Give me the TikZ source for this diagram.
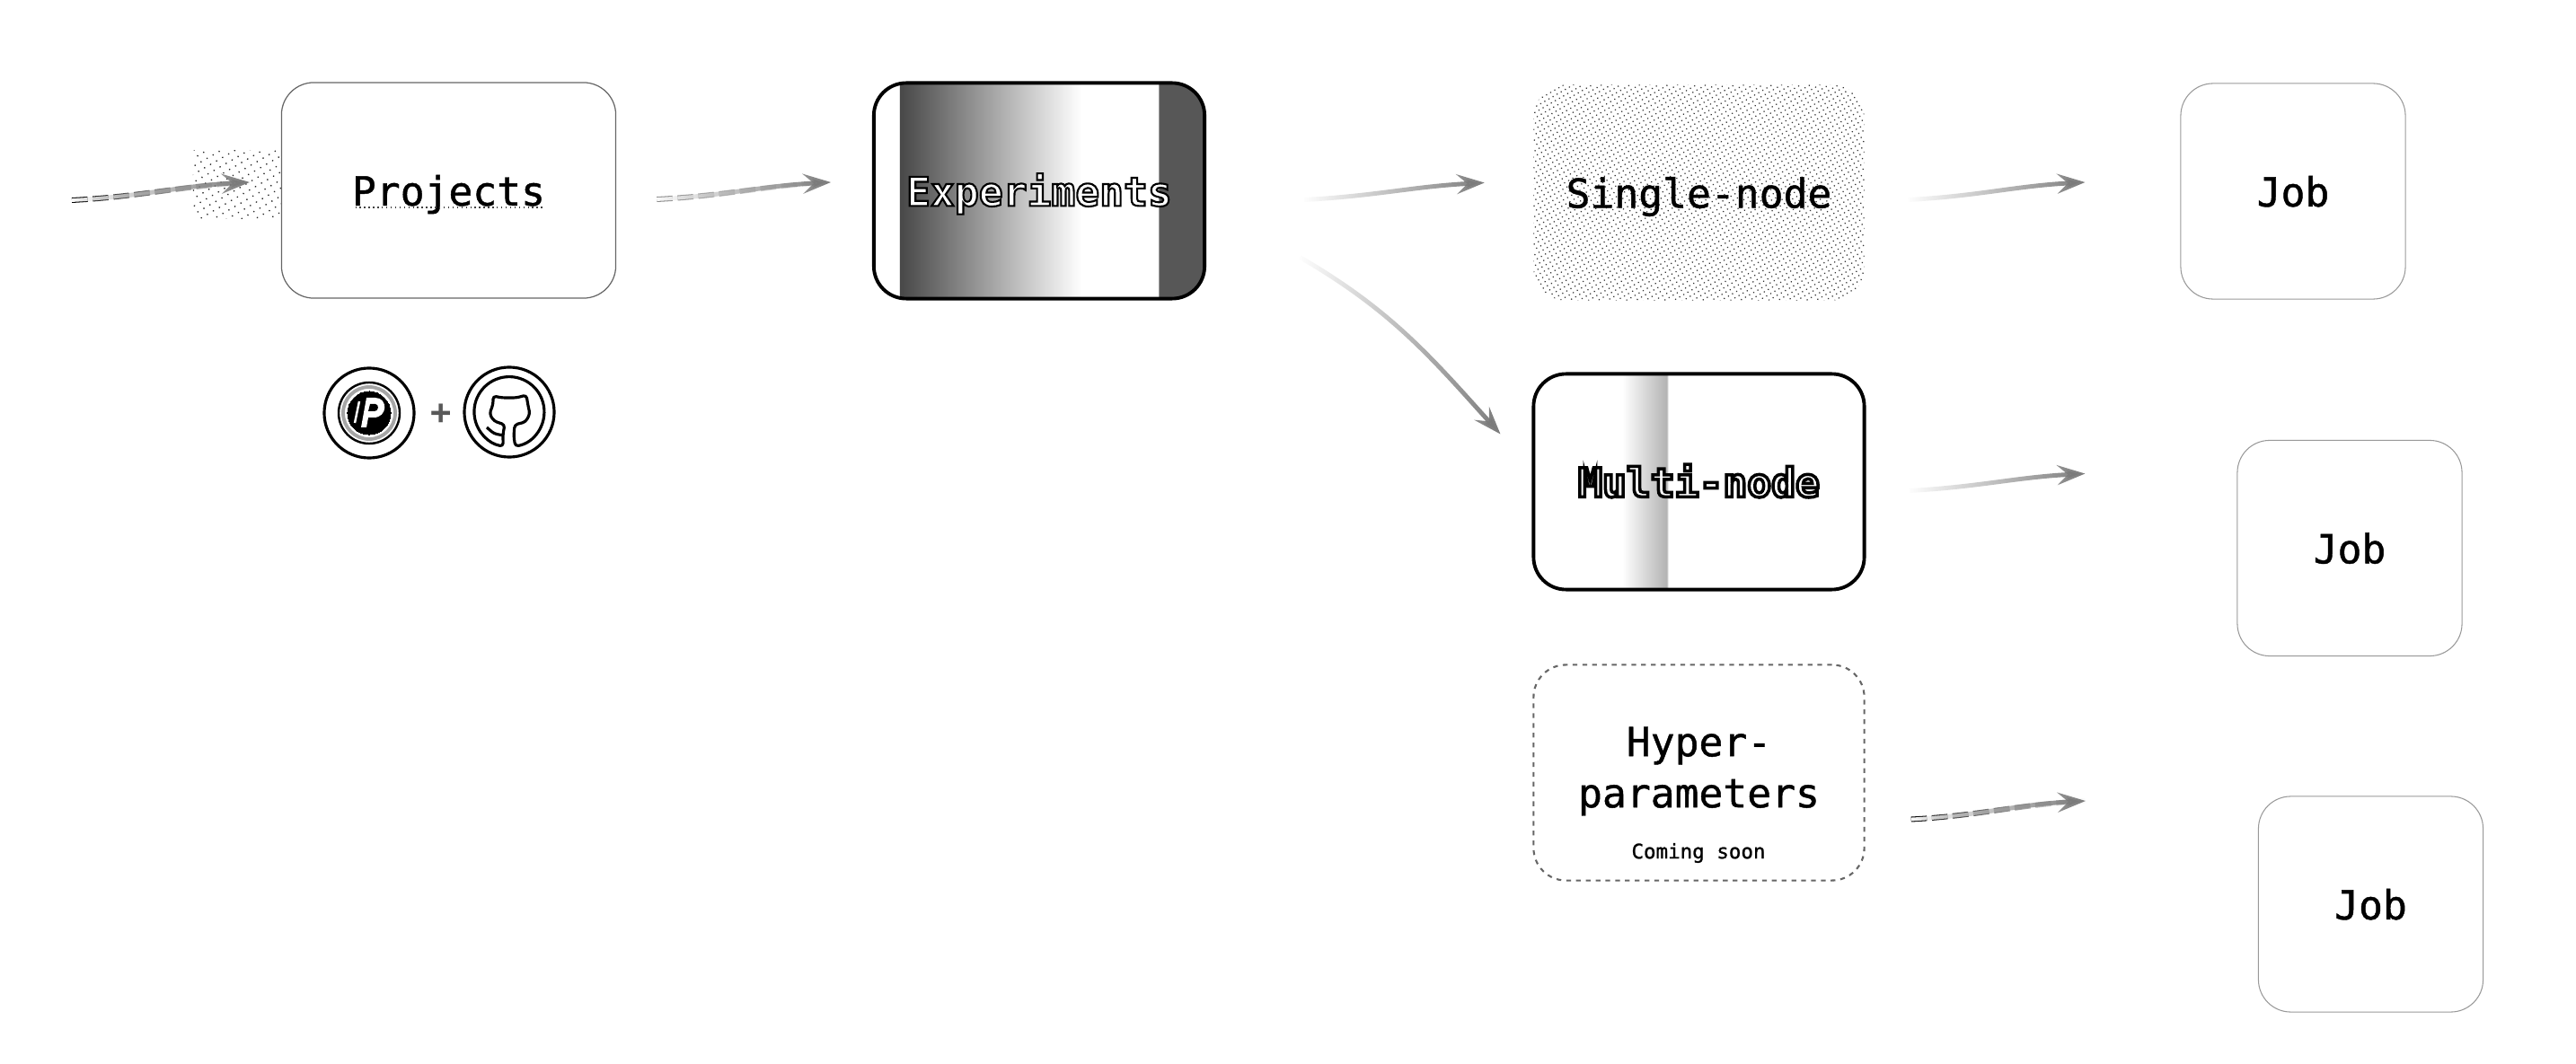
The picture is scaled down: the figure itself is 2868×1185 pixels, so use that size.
\documentclass[tikz,border=0pt]{standalone}
\usepackage{fontspec}
\setmonofont{DejaVu Sans Mono}
\newfontfamily\labelfont{DejaVu Sans Mono}[FakeBold=1]
\usetikzlibrary{arrows.meta,fadings,patterns.meta}

\pgfdeclarehorizontalshading{expfill}{100bp}{color(0bp)=(white); color(28.8bp)=(white); color(28.9bp)=(black!72); color(56.4bp)=(white); color(68bp)=(white); color(68.1bp)=(black!66); color(100bp)=(black!66)}
\pgfdeclarehorizontalshading{multifill}{100bp}{color(0bp)=(white); color(38.4bp)=(white); color(45.2bp)=(black!30); color(45.3bp)=(white); color(100bp)=(white)}
\tikzfading[name=flowfade, left color=transparent!100, middle color=transparent!96, right color=transparent!0]
\tikzfading[name=tailfade, left color=transparent!0, middle color=transparent!30, right color=transparent!100]

\newcommand{\ringtext}[2]{\special{pdf:code q 2 Tr #1 w 0 0 0 RG}#2\special{pdf:code Q}}

\tikzset{
  boxbase/.style={rectangle, rounded corners=0.36cm, inner sep=0pt, align=center,
    text height=9.6pt, text depth=0pt, font=\labelfont\fontsize{12.7}{16.2}\selectfont},
  wide/.style={boxbase, minimum width=3.68cm, minimum height=2.4cm},
  jobbox/.style={boxbase, minimum width=2.5cm, minimum height=2.4cm, draw=black!40, line width=0.3pt},
  projbox/.style={wide, minimum width=3.72cm, draw=black!60, line width=0.35pt},
  strongbox/.style={wide, draw=black, line width=1.1pt, text=white, font=\ttfamily\bfseries\fontsize{12.7}{16.2}\selectfont},
  dotbox/.style={wide, pattern={Dots[radius=0.25pt,distance=1.5pt,angle=30]}, pattern color=black!80},
  soonbox/.style={wide, draw=black!60, line width=0.6pt, dash pattern=on 1.5pt off 1.6pt},
  patch/.style={rectangle, inner sep=0pt, minimum width=0.98cm, minimum height=0.75cm, pattern={Dots[radius=0.27pt,distance=2.2pt,angle=30]}, pattern color=black!85},
  flow/.style={draw=black!52, line width=1.4pt, path fading=flowfade, -{Stealth[length=0.31cm,width=0.22cm,inset=0.12cm]}},
  flowtail/.style={draw=black, line width=0.3pt, double=white, double distance=1.1pt, path fading=tailfade, dash pattern=on 5pt off 1.6pt},
  ring/.style={circle, draw=black, line width=0.9pt, inner sep=0pt}
}

\begin{document}
\begin{tikzpicture}[x=0.01cm,y=-0.01cm]
  \useasboundingbox (0,0) rectangle (2868,1185);

  \node[patch] (area) at (264,205.5) {};
  \node[projbox] (proj) at (499.5,212) {Projects};
  \node[strongbox, shading=expfill] (exp) at (1157,212.5) {\ringtext{0.6}{Experiments}};
  \node[dotbox] (single) at (1891.5,214.5) {Single-node};
  \node[strongbox, shading=multifill] (multi) at (1891.5,536.5) {\ringtext{1.0}{Multi-node}};
  \node[soonbox, text height=22pt] (hyper) at (1891.5,860.5) {Hyper-\\parameters};
  \node[font=\labelfont\fontsize{6.4}{8}\selectfont, inner sep=0pt] (soon) at (1891,950) {Coming soon};
  \node[jobbox] (job1) at (2553,213) {Job};
  \node[jobbox] (job2) at (2616,610.5) {Job};
  \node[jobbox] (job3) at (2639.5,1007) {Job};
  \coordinate (start) at (80,223);

  \draw[black!75, densely dotted, line width=0.4pt] ([shift={(-104,19)}]proj.center) -- ([shift={(104,19)}]proj.center);

  \draw[flowtail] (start) to[out=3,in=183] ([shift={(-35,-9)}]proj.west);
  \draw[flow] (start) to[out=3,in=183] ([shift={(-35,-9)}]proj.west);
  \draw[flowtail, draw=black!45] ([shift={(45,10)}]proj.east) to[out=3,in=183] ([shift={(-46,-9.5)}]exp.west);
  \draw[flow] ([shift={(45,10)}]proj.east) to[out=3,in=183] ([shift={(-46,-9.5)}]exp.west);
  \draw[flow] ([shift={(109,10)}]exp.east) to[out=3,in=183] ([shift={(-54,-11)}]single.west);
  \draw[flow] ([shift={(104,74)}]exp.east) to[out=-30,in=132] ([shift={(-35,-53)}]multi.west);
  \draw[flow] ([shift={(48,8)}]single.east) to[out=3,in=183] ([shift={(-106,-10)}]job1.west);
  \draw[flow] ([shift={(48,10)}]multi.east) to[out=3,in=183] ([shift={(-169,-83)}]job2.west);
  \draw[flowtail] ([shift={(51,52)}]hyper.east) to[out=3,in=183] ([shift={(-192,-115)}]job3.west);
  \draw[flow] ([shift={(51,52)}]hyper.east) to[out=3,in=183] ([shift={(-192,-115)}]job3.west);

  \node[ring, minimum size=1cm] (pmark) at (411,460) {};
  \node[ring, minimum size=0.68cm, draw=black, line width=0.7pt] (pouter) at (pmark) {};
  \node[ring, minimum size=0.58cm, draw=black!35, line width=1.1pt] (pmid) at (pmark) {};
  \node[ring, minimum size=0.48cm, fill=black, line width=0pt] (pdisc) at (pmark) {};
  \begin{scope}[shift={(411,460)}]
    \draw[white, line width=0.7pt] (-16,11) -- (-11,-13);
    \fill[white] (-9,16) -- (-3,-17) -- (7,-17) .. controls (21,-17) and (21,5) .. (5,5) -- (-1,5) -- (-3,16) -- cycle;
    \fill[black] (1,-10) -- (7,-10) .. controls (11,-10) and (11,-2) .. (6,-2) -- (-1,-2) -- cycle;
  \end{scope}

  \node[font=\ttfamily\bfseries\fontsize{11}{11}\selectfont, text=black!65, inner sep=0pt] (plus) at (491,461) {+};

  \node[ring, minimum size=1cm] (ghub) at (567,459) {};
  \begin{scope}[shift={(567,459)}]
    \draw[black, line width=0.9pt, rounded corners=1pt, line join=round] (6.7,38) arc[start angle=80,end angle=-260,radius=39] -- (-7,24) -- (-5,14) -- (-17,10) -- (-22,2) -- (-18,-9) -- (-18,-18) -- (-8,-16) -- (8,-16) -- (19,-19) -- (21,-7) -- (23,2) -- (18,11) -- (6,14) -- (5,27) -- cycle;
    \draw[black, line width=0.9pt, rounded corners=1pt] (-25,17) -- (-17,24) -- (-6,26);
  \end{scope}
\end{tikzpicture}
\end{document}
